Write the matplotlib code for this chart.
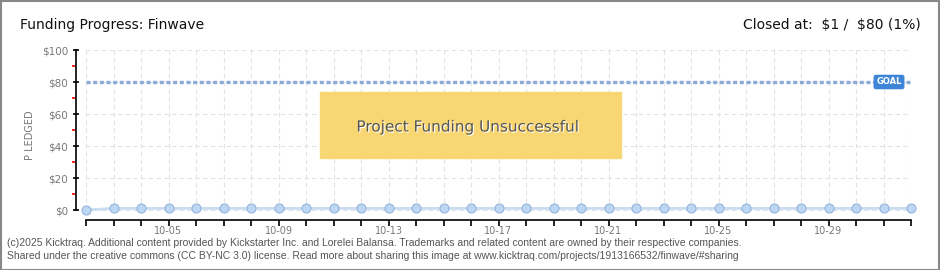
import matplotlib
matplotlib.use("Agg")
import matplotlib.pyplot as plt
from matplotlib.patches import Rectangle
import matplotlib.patheffects as pe
import numpy as np

# campaign days, 10-02 .. 11-01
days = ["10-02", "10-03", "10-04", "10-05", "10-06", "10-07", "10-08", "10-09",
        "10-10", "10-11", "10-12", "10-13", "10-14", "10-15", "10-16", "10-17",
        "10-18", "10-19", "10-20", "10-21", "10-22", "10-23", "10-24", "10-25",
        "10-26", "10-27", "10-28", "10-29", "10-30", "10-31", "11-01"]
pledged = [0, 1, 1, 1, 1, 1, 1, 1, 1, 1, 1, 1, 1, 1, 1, 1,
           1, 1, 1, 1, 1, 1, 1, 1, 1, 1, 1, 1, 1, 1, 1]
goal = 80
y_ticks = [0, 20, 40, 60, 80, 100]
y_labels = ["$0", "$20", "$40", "$60", "$80", "$100"]
shown_days = ["10-05", "10-09", "10-13", "10-17", "10-21", "10-25", "10-29"]

W, H = 940, 270
fig = plt.figure(figsize=(W / 100, H / 100), dpi=100)
fig.patch.set_facecolor("white")

def px(x0, y0, x1, y1):
    # pixel box -> figure fraction [left, bottom, width, height]
    return [x0 / W, 1 - y1 / H, (x1 - x0) / W, (y1 - y0) / H]

ax = fig.add_axes(px(76, 50, 911, 220))
ax.set_facecolor("none")
x = np.arange(len(days))
n = len(days) - 1
ax.set_xlim(-10 / 27.5, n)
ax.set_ylim(-6.25, 100)

# grid
grid_kw = dict(color="#e2e2e2", lw=0.8, linestyles=(0, (4, 3)), zorder=0)
ax.hlines(y_ticks, 0, n, **grid_kw)
ax.vlines(x, 0, 100, **grid_kw)

# goal line
ax.plot([0, n], [goal, goal], color="#8aaad8", lw=2.4, ls=(0, (1.2, 0.8)),
        solid_capstyle="butt", zorder=2)

# pledged series
ax.plot(x, pledged, color="#c8dcf2", lw=2, zorder=3)
ax.plot(x, pledged, ls="none", marker="o", ms=6.5, mfc="#bcd6f4", mec="#94b4dc",
        mew=0.8, zorder=4, clip_on=False)

# spines
for s in ["top", "right"]:
    ax.spines[s].set_visible(False)
ax.spines["left"].set_bounds(0, 100)
ax.spines["bottom"].set_bounds(0, n)
ax.spines["left"].set_linewidth(1.2)
ax.spines["bottom"].set_linewidth(1.2)

ax.set_yticks(y_ticks)
ax.set_yticklabels(y_labels)
ax.set_yticks([10, 30, 50, 70, 90], minor=True)
ax.tick_params(axis="y", which="major", direction="inout", length=5, width=1.2,
               colors="black", labelcolor="#777777", labelsize=7.5, pad=3)
ax.tick_params(axis="y", which="minor", direction="out", length=3, width=1.2,
               colors="red")
ax.set_xticks(x)
ax.set_xticklabels([d if d in shown_days else "" for d in days])
ax.tick_params(axis="x", direction="out", length=4, width=1.2, colors="black",
               labelcolor="#777777", labelsize=7, pad=0.5)
ax.set_ylabel("P LEDGED", color="#777777", fontsize=7, labelpad=5)

# goal tag
ax.text(29.2, goal, "GOAL", color="white", fontsize=6, fontweight="bold",
        ha="center", va="center", zorder=6,
        bbox=dict(boxstyle="round,pad=0.25,rounding_size=0.2", fc="#3d85d6",
                  ec="#3d85d6"))

# unsuccessful banner
fig.patches.append(Rectangle((320 / W, 1 - 158 / H), 301 / W, 66 / H,
                             transform=fig.transFigure, fc="#f8d672",
                             ec="#f5d878", lw=1, zorder=5))
fig.text(468 / W, 1 - 127 / H, "Project Funding Unsuccessful", color="#555555",
         fontsize=11, ha="center", va="center", zorder=6,
         path_effects=[pe.withSimplePatchShadow(offset=(0.8, -0.8),
                                                shadow_rgbFace="white", alpha=1)])

# header
fig.text(20 / W, 1 - 25 / H, "Funding Progress: Finwave", fontsize=10,
         color="#111111", va="center", ha="left")
fig.text(921 / W, 1 - 25 / H, r"Closed at:  \$1 /  \$80 (1%)", fontsize=10,
         color="#111111", va="center", ha="right")

# footer
foot = ["(c)2025 Kicktraq. Additional content provided by Kickstarter Inc. and Lorelei Balansa. "
        "Trademarks and related content are owned by their respective companies.",
        "Shared under the creative commons (CC BY-NC 3.0) license. Read more about sharing "
        "this image at www.kicktraq.com/projects/1913166532/finwave/#sharing"]
fig.text(7 / W, 1 - 243 / H, foot[0], fontsize=7.5, color="#555555", va="center",
         family=["Liberation Sans", "DejaVu Sans"])
fig.text(7 / W, 1 - 256 / H, foot[1], fontsize=7.5, color="#555555", va="center",
         family=["Liberation Sans", "DejaVu Sans"])

# outer border
fig.patches.append(Rectangle((0.5 / W, 0.5 / H), (W - 1.5) / W, (H - 1.5) / H,
                             transform=fig.transFigure, fill=False,
                             ec="#888888", lw=1.5, zorder=10))

fig.savefig("out.png", dpi=100)
